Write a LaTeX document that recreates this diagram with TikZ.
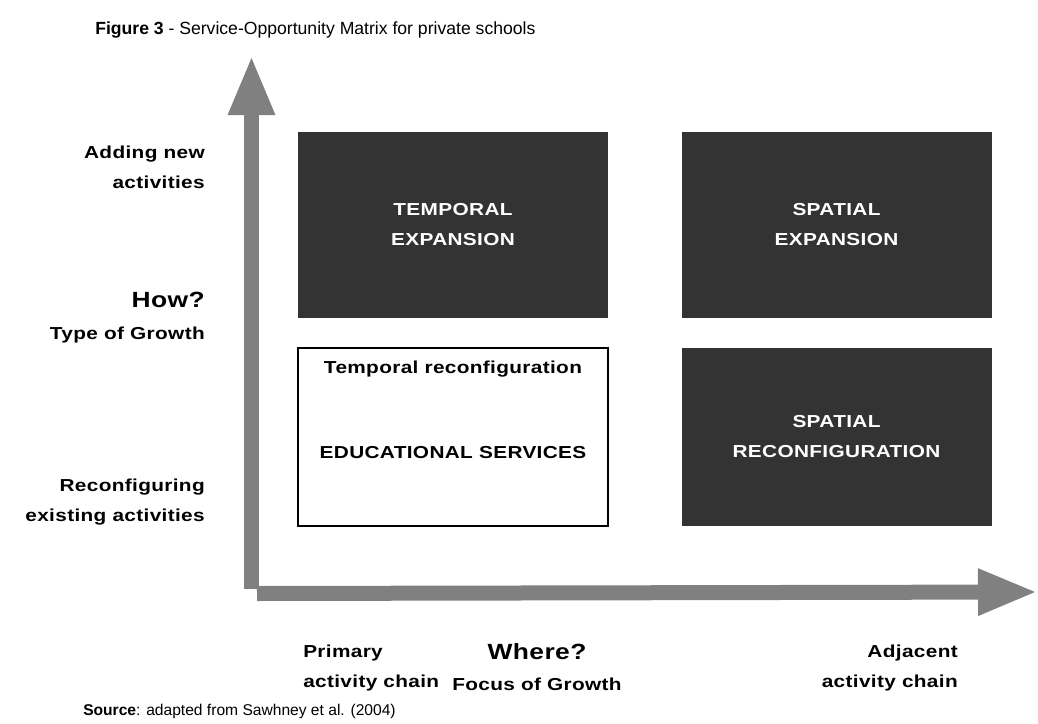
\documentclass[tikz,border=0pt]{standalone}
\usepackage{fontspec}
\setmainfont{Liberation Sans}
\newfontfamily\labfont[FakeStretch=1.2,LetterSpace=2]{Liberation Sans}
\usepackage{xcolor}
\usetikzlibrary{arrows.meta,positioning}
\definecolor{axisgray}{HTML}{808080}
\definecolor{cellgray}{HTML}{333333}

\begin{document}
\begin{tikzpicture}[
  x=0.75pt, y=-0.75pt,
  axis/.style={draw=axisgray,line width=11.25pt,-{Triangle[length=45pt,width=32pt]}},
  cell/.style={fill=cellgray,minimum width=232.5pt,minimum height=139.5pt,inner sep=0pt,
    text=white,align=center,font=\labfont\bfseries\fontsize{13}{22.5}\selectfont},
  lowcell/.style={cell,minimum height=133.5pt},
  lab/.style={inner sep=0pt,font=\labfont\bfseries\fontsize{13}{22.5}\selectfont},
  big/.style={inner sep=0pt,font=\labfont\bfseries\fontsize{16.5}{20}\selectfont}]
\useasboundingbox (0,0) rectangle (1038,724);
% title and source
\node[anchor=base west,inner sep=0pt,font=\fontsize{13.2}{15}\selectfont] (title) at (95,35)
  {\textbf{Figure 3} - Service-Opportunity Matrix for private schools};
\node[anchor=base west,inner sep=0pt,font=\fontsize{11.7}{15}\selectfont] (source) at (83,715)
  {\textbf{Source}: adapted from Sawhney et al. (2004)};
% matrix cells
\node[cell] (cTE) at (453,225) {TEMPORAL\\EXPANSION};
\node[cell] (cSE) at (836.5,225) {SPATIAL\\EXPANSION};
\node[lowcell,fill=white,draw=black,line width=1.1pt,text=black] (cTR) at (453,437) {};
\node[lowcell] (cSR) at (836.5,437) {SPATIAL\\RECONFIGURATION};
\node[lab,below=10pt of cTR.north] (tTR) {Temporal reconfiguration};
\node[lab] (tEdu) at (453,453) {EDUCATIONAL SERVICES};
% axes
\coordinate (origin) at (251.5,589);
\coordinate (ytip) at (251.5,55);
\coordinate (xstart) at (257,593.5);
\coordinate (xtip) at (1038,592);
\draw[axis] (origin) -- (ytip);
\draw[axis] (xstart) -- (xtip);
% vertical axis labels
\node[lab,anchor=east,align=right] (labAdd) at (205,167) {Adding new\\activities};
\node[big,anchor=east] (labHow) at (205,300) {How?};
\node[lab,below=14pt of labHow.south east,anchor=north east] (labType) {Type of Growth};
\node[lab,anchor=east,align=right] (labReconf) at (205,502) {Reconfiguring\\existing activities};
% horizontal axis labels
\node[lab,anchor=west,align=left] (labPrim) at (303,668) {Primary\\activity chain};
\node[big] (labWhere) at (537,652) {Where?};
\node[lab,below=13pt of labWhere] (labFocus) {Focus of Growth};
\node[lab,anchor=east,align=right] (labAdj) at (958,668) {Adjacent\\activity chain};
\end{tikzpicture}
\end{document}
